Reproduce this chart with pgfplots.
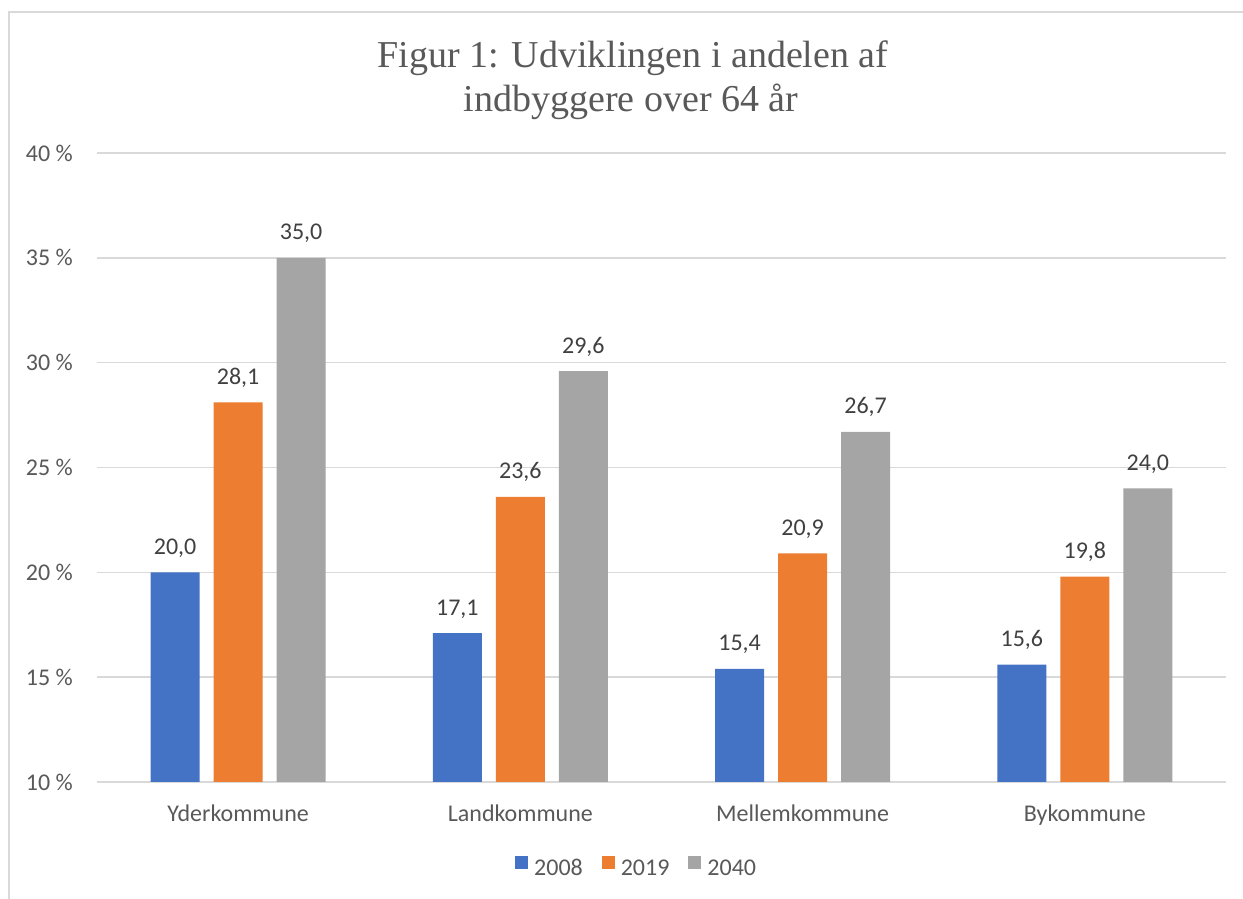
\documentclass[border=0pt]{standalone}
\usepackage{pgfplots}
\pgfplotsset{compat=1.18}
\usepackage{fontspec}
\setmainfont{Carlito}
\newfontfamily\titlefont{Liberation Serif}
\definecolor{cblue}{HTML}{4472C4}
\definecolor{corange}{HTML}{ED7D31}
\definecolor{cgray}{HTML}{A5A5A5}
\definecolor{ctext}{HTML}{595959}
\definecolor{clabel}{HTML}{404040}
\definecolor{cgrid}{HTML}{D9D9D9}
\begin{document}
\begin{tikzpicture}[x=1bp,y=1bp]
\path[use as bounding box] (0,0) rectangle (1243,899);
\draw[cgrid,line width=1.5bp] (9,-5) -- (9,887) -- (1250,887);
\begin{axis}[
  at={(97bp,117bp)}, anchor=south west,
  width=1129bp, height=629bp, scale only axis,
  xmin=-0.5, xmax=3.5, ymin=10, ymax=40,
  ytick={10,15,...,40},
  xtick={0,1,2,3},
  xticklabels={Yderkommune,Landkommune,Mellemkommune,Bykommune},
  axis line style={draw=none},
  major tick length=0pt,
  ymajorgrids, grid style={cgrid,line width=1.5bp},
  ybar, bar width=49bp,
  /pgf/number format/assume math mode=true,
  yticklabel={\pgfmathprintnumber{\tick}~\%},
  yticklabel style={anchor=east,inner sep=0pt,xshift=-24bp,font=\fontsize{24bp}{28bp}\selectfont,text=ctext},
  xticklabel style={anchor=base,inner sep=0pt,yshift=-40bp,font=\fontsize{24bp}{28bp}\selectfont,text=ctext},
  nodes near coords={\pgfmathprintnumber[fixed,fixed zerofill,precision=1,use comma,assume math mode=true]{\pgfplotspointmeta}},
  every node near coord/.append style={anchor=base,inner sep=0pt,yshift=18bp,font=\fontsize{24bp}{28bp}\selectfont,text=clabel},
  legend columns=3,
  legend style={at={(0.478,-0.135)},anchor=center,draw=none,fill=none,font=\fontsize{24bp}{28bp}\selectfont,text=ctext,
    nodes={text height=15bp,text depth=0bp},
    /tikz/every even column/.append style={column sep=17bp}},
  legend image code/.code={\fill[#1,draw=none] (0bp,-1bp) rectangle (13bp,12bp);\path (17bp,0bp);},
]
\addplot[fill=cblue,draw=none,bar shift=-63bp] coordinates {(0,20.0) (1,17.1) (2,15.4) (3,15.6)};
\addplot[fill=corange,draw=none,bar shift=0bp] coordinates {(0,28.1) (1,23.6) (2,20.9) (3,19.8)};
\addplot[fill=cgray,draw=none,bar shift=63bp] coordinates {(0,35.0) (1,29.6) (2,26.7) (3,24.0)};
\legend{2008,2019,2040}
\end{axis}
\node[anchor=base,inner sep=0pt,text=ctext,font=\titlefont\fontsize{38bp}{44bp}\selectfont] at (633,831) {Figur 1: Udviklingen i andelen af};
\node[anchor=base,inner sep=0pt,text=ctext,font=\titlefont\fontsize{38bp}{44bp}\selectfont] at (631,787) {indbyggere over 64 år};
\end{tikzpicture}
\end{document}
